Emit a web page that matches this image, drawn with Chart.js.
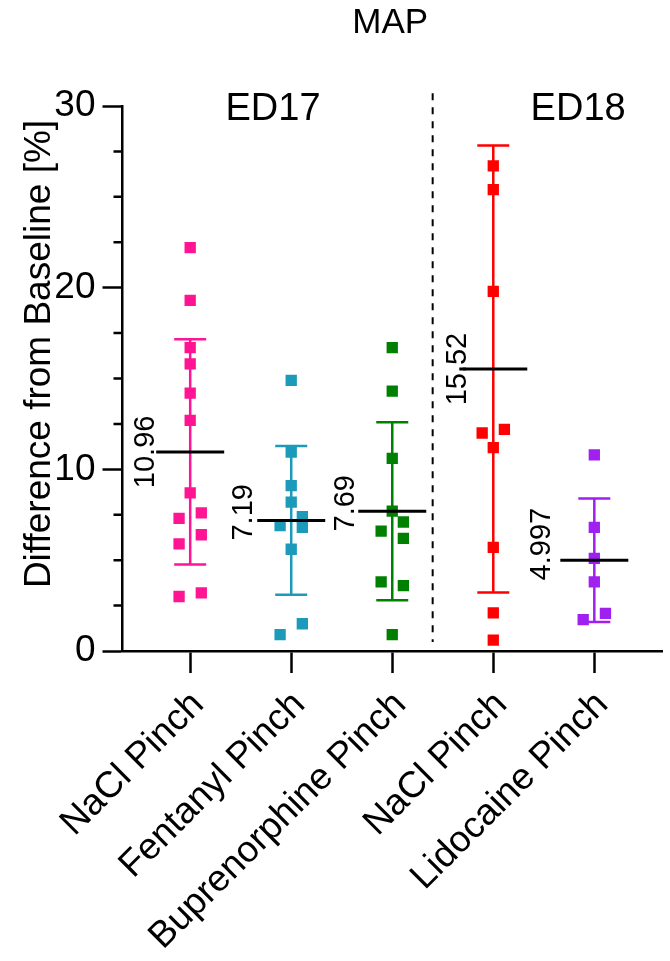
<!DOCTYPE html>
<html>
<head>
<meta charset="utf-8">
<script src="https://cdn.jsdelivr.net/npm/chart.js@4.4.0/dist/chart.umd.min.js"></script>
<style>
    html, body { margin: 0; padding: 0; background: #fff; }
    #wrap { width: 670px; height: 961px; position: relative; }
</style>
</head>
<body>
<div id="wrap"><canvas id="mapChart"></canvas></div>
<script>
// Data
const groups = ['NaCl Pinch', 'Fentanyl Pinch', 'Buprenorphine Pinch', 'NaCl Pinch', 'Lidocaine Pinch'];

const naclEd17 = [22.2, 19.3, 16.7, 15.8, 14.2, 12.7, 8.7, 7.6, 7.3, 6.4, 5.9, 3.2, 3.0];
const naclEd17Side = [0, 0, 0, 0, 0, 0, 0, 1, -1, 1, -1, 1, -1];
const fentanyl = [14.9, 10.95, 9.1, 8.2, 7.4, 6.8, 6.9, 5.6, 1.5, 0.9];
const fentanylSide = [0, 0, 0, 0, 1, 1, -1, 0, 1, -1];
const buprenorphine = [16.7, 14.3, 10.6, 7.7, 7.1, 6.6, 6.2, 3.8, 3.6, 0.9];
const buprenorphineSide = [0, 0, 0, 0, 1, -1, 1, -1, 1, 0];
const naclEd18 = [26.7, 25.4, 19.8, 12.0, 12.2, 11.2, 5.7, 2.1, 0.6];
const naclEd18Side = [0, 0, 0, -1, 1, 0, 0, 0, 0];
const lidocaine = [10.8, 6.8, 5.1, 3.8, 2.07, 1.73];
const lidocaineSide = [0, 0, 0, 0, 1, -1];

const meanValues = [10.96, 7.19, 7.69, 15.52, 4.997];
const sdValues = [6.2, 4.1, 4.9, 12.3, 3.4];

const yTicks = [0, 10, 20, 30];
const yMinorStep = 2.5;
const dividerAt = 2.4;
const cohortLabels = [{ text: 'ED17', at: 0.82 }, { text: 'ED18', at: 3.84 }];

// Styles
const colors = ['#FF1493', '#1B9BB9', '#008000', '#FF0000', '#A020F0'];
const FONT = '"Liberation Sans", Arial, sans-serif';
const JITTER = 0.11;
const meanHalf = 34;      // px
const capHalf = 16;       // px
const meanLabelDx = [-46, -49, -48, -37, -54];

const seriesValues = [naclEd17, fentanyl, buprenorphine, naclEd18, lidocaine];
const seriesSides = [naclEd17Side, fentanylSide, buprenorphineSide, naclEd18Side, lidocaineSide];

const datasets = seriesValues.map((vals, g) => ({
    label: groups[g],
    data: vals.map((v, i) => ({ x: g + seriesSides[g][i] * JITTER, y: v })),
    backgroundColor: colors[g],
    borderWidth: 0,
    pointStyle: 'rect',
    pointRadius: 8,
    pointHoverRadius: 8
}));

const statsPlugin = {
    id: 'stats',
    afterDatasetsDraw(chart) {
        const { ctx, scales: { x, y } } = chart;
        ctx.save();
        meanValues.forEach((m, g) => {
            const cx = x.getPixelForValue(g);
            const yTop = y.getPixelForValue(m + sdValues[g]);
            const yBot = y.getPixelForValue(Math.max(m - sdValues[g], 0));
            const yMean = y.getPixelForValue(m);

            // error bar
            ctx.strokeStyle = colors[g];
            ctx.lineWidth = 2.5;
            ctx.beginPath();
            ctx.moveTo(cx, yTop); ctx.lineTo(cx, yBot);
            ctx.moveTo(cx - capHalf, yTop); ctx.lineTo(cx + capHalf, yTop);
            ctx.moveTo(cx - capHalf, yBot); ctx.lineTo(cx + capHalf, yBot);
            ctx.stroke();

            // mean line
            ctx.strokeStyle = '#000';
            ctx.lineWidth = 3;
            ctx.beginPath();
            ctx.moveTo(cx - meanHalf, yMean); ctx.lineTo(cx + meanHalf, yMean);
            ctx.stroke();

            // mean label, decimal point lined up with the mean
            const txt = String(m);
            ctx.font = '29px ' + FONT;
            const intPart = txt.split('.')[0];
            const shift = ctx.measureText(intPart).width + ctx.measureText('.').width / 2;
            ctx.save();
            ctx.translate(cx + meanLabelDx[g] + 10, yMean + shift);
            ctx.rotate(-Math.PI / 2);
            ctx.fillStyle = '#000';
            ctx.textAlign = 'left';
            ctx.textBaseline = 'alphabetic';
            ctx.fillText(txt, 0, 0);
            ctx.restore();
        });
        ctx.restore();
    },
    afterDraw(chart) {
        const { ctx, chartArea, scales: { x, y } } = chart;
        ctx.save();

        // minor ticks on y axis
        ctx.strokeStyle = '#000';
        ctx.lineWidth = 2.5;
        ctx.beginPath();
        for (let v = yMinorStep; v < 30; v += yMinorStep) {
            if (v % 10 === 0) continue;
            const py = y.getPixelForValue(v);
            ctx.moveTo(chartArea.left - 9, py);
            ctx.lineTo(chartArea.left, py);
        }
        ctx.stroke();

        // dashed divider
        const dx = x.getPixelForValue(dividerAt);
        ctx.setLineDash([7, 7]);
        ctx.lineWidth = 2;
        ctx.beginPath();
        ctx.moveTo(dx, y.getPixelForValue(30.7));
        ctx.lineTo(dx, y.getPixelForValue(0.5));
        ctx.stroke();
        ctx.setLineDash([]);

        ctx.fillStyle = '#000';
        ctx.textAlign = 'center';
        ctx.textBaseline = 'middle';

        // cohort labels
        ctx.font = '38px ' + FONT;
        cohortLabels.forEach(c => {
            ctx.fillText(c.text, x.getPixelForValue(c.at), y.getPixelForValue(29.8));
        });

        // title
        ctx.font = '35px ' + FONT;
        ctx.fillText('MAP', x.getPixelForValue(1.98), 23);

        // y axis title
        ctx.font = '37px ' + FONT;
        ctx.save();
        ctx.translate(50, 354);
        ctx.rotate(-Math.PI / 2);
        ctx.textBaseline = 'alphabetic';
        ctx.fillText('Difference from Baseline [%]', 0, 0);
        ctx.restore();

        ctx.restore();
    }
};

const chart = new Chart(document.getElementById('mapChart'), {
    type: 'scatter',
    data: { datasets },
    options: {
        responsive: true,
        maintainAspectRatio: false,
        animation: false,
        layout: { padding: { top: 106, right: 0, left: 0, bottom: 0 } },
        plugins: { legend: { display: false }, tooltip: { enabled: false } },
        scales: {
            x: {
                type: 'linear',
                min: -0.67,
                max: 4.67,
                afterBuildTicks: s => { s.ticks = groups.map((_, i) => ({ value: i })); },
                afterFit: s => { s.height = 310; },
                grid: { drawOnChartArea: false, drawTicks: true, tickLength: 22, tickWidth: 2.5, tickColor: '#000' },
                border: { display: true, color: '#000', width: 2.5 },
                ticks: {
                    autoSkip: false,
                    minRotation: 45,
                    maxRotation: 45,
                    padding: 10,
                    labelOffset: 8,
                    color: '#000',
                    font: { family: FONT, size: 37 },
                    callback: v => groups[v]
                }
            },
            y: {
                min: 0,
                max: 30,
                afterBuildTicks: s => { s.ticks = yTicks.map(v => ({ value: v })); },
                afterFit: s => { s.width = 122.5; },
                grid: { drawOnChartArea: false, drawTicks: true, tickLength: 20, tickWidth: 2.5, tickColor: '#000' },
                border: { display: true, color: '#000', width: 2.5 },
                ticks: {
                    padding: 7,
                    color: '#000',
                    font: { family: FONT, size: 37 }
                }
            }
        }
    },
    plugins: [statsPlugin]
});
</script>
</body>
</html>
